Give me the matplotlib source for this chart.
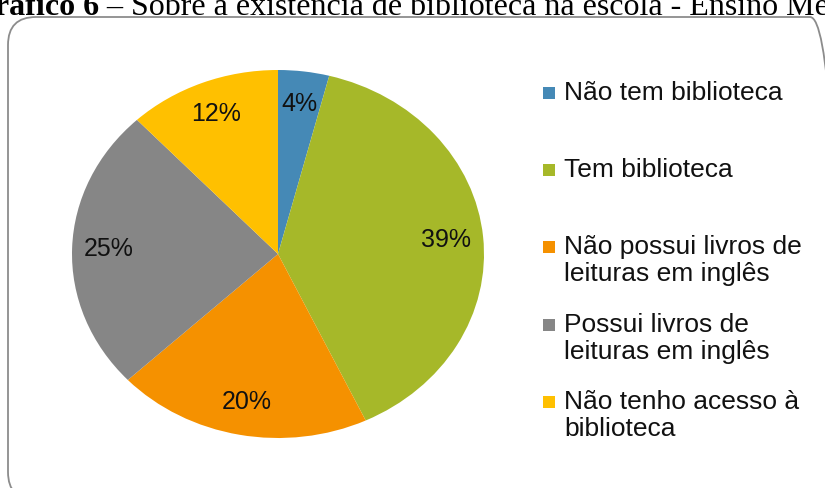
import matplotlib
matplotlib.use('Agg')
import matplotlib.pyplot as plt
from matplotlib.patches import FancyBboxPatch, Rectangle
from matplotlib.transforms import IdentityTransform

# Survey answers about the school library (high school)
labels = ['Não tem biblioteca', 'Tem biblioteca',
          'Não possui livros de\nleituras em inglês',
          'Possui livros de\nleituras em inglês',
          'Não tenho acesso à\nbiblioteca']
percents = [4, 39, 20, 25, 12]
colors = ['#4589B6', '#A6B829', '#F59100', '#868686', '#FFC000']

W, H = 825, 488
fig = plt.figure(figsize=(W / 100, H / 100), dpi=100)

# rounded frame around the chart, in pixels (runs off the right and bottom edges)
frame = FancyBboxPatch((8, -12), 830, H - 17 + 12,
                       boxstyle='round,pad=0,rounding_size=28',
                       transform=IdentityTransform(), facecolor='none',
                       edgecolor='#8c8c8c', linewidth=1.3, zorder=-1)
fig.patches.append(frame)

# caption of the figure, cut at the top of the image
t1 = fig.text(-30 / W, 1 - 15 / H, 'Gráfico 6', fontsize=23, fontweight='bold',
              family='Liberation Serif', va='baseline', ha='left')
fig.canvas.draw()
ext = t1.get_window_extent()
fig.text(ext.x1 / W, 1 - 15 / H,
         ' – Sobre a existência de biblioteca na escola - Ensino Médio',
         fontsize=23, family='Liberation Serif', va='baseline', ha='left')

# pie: stretched horizontally like the original
cx, cy, rx, ry = 278, 254, 206, 184
ax = fig.add_axes([(cx - rx) / W, (H - cy - ry) / H, 2 * rx / W, 2 * ry / H])
wedges, texts, autotexts = ax.pie(percents, colors=colors, startangle=90,
                                  counterclock=False, autopct='%d%%',
                                  pctdistance=0.82,
                                  wedgeprops=dict(linewidth=0),
                                  textprops=dict(fontsize=18, family='Liberation Sans',
                                                 color='#111111'))
ax.set_aspect('auto')
ax.set_xlim(-1, 1)
ax.set_ylim(-1, 1)
ax.axis('off')

# legend drawn by hand to keep the uneven spacing
legend_y = [93, 170, 247, 325, 402]
for lab, col, y in zip(labels, colors, legend_y):
    fig.patches.append(Rectangle((543 / W, 1 - (y + 6) / H), 12 / W, 12 / H,
                                 transform=fig.transFigure, facecolor=col,
                                 edgecolor='none'))
    fig.text(564 / W, 1 - (y - 12) / H, lab, fontsize=19, family='Liberation Sans',
             color='#111111', va='top', ha='left', linespacing=1.17)

fig.savefig('out.png', dpi=100)
